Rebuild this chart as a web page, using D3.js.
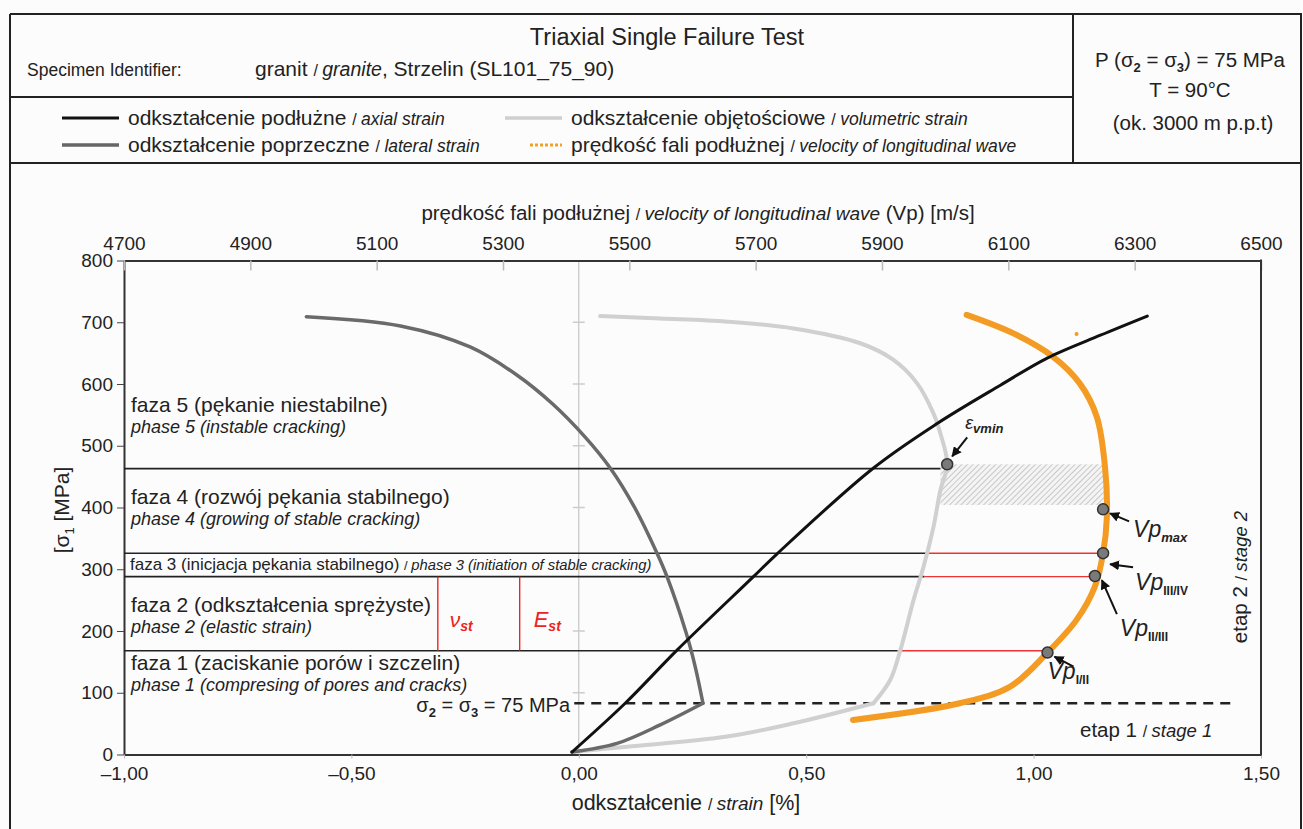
<!doctype html>
<html>
<head>
<meta charset="UTF-8">
<script src="https://d3js.org/d3.v7.min.js"></script>
<style>
  body { margin: 0; background: #fcfcfc; }
  svg { display: block; font-family: "Liberation Sans", Arial, sans-serif; }
</style>
</head>
<body>
<svg id="chart" width="1303" height="829"></svg>
<script>
// strain [%] / stress [MPa]
var axialStrain = [-0.015, 0.102, 0.216, 0.384, 0.436, 0.648, 0.788, 0.927, 1.03, 1.147, 1.25];
var axialStress = [4, 83, 169, 288, 325, 464, 536, 598, 642, 679, 710];

var lateralLoadStrain = [-0.015, 0.084, 0.179, 0.273];
var lateralLoadStress = [4, 18, 48, 83];
var lateralStrain = [0.273, 0.256, 0.236, 0.194, 0.172, 0.122, 0.069, 0.014, -0.058, -0.137, -0.239, -0.392, -0.599];
var lateralStress = [83, 142, 197, 288, 326, 401, 464, 514, 568, 615, 660, 694, 709];

var volLoadStrain = [-0.015, 0.106, 0.326, 0.472, 0.648];
var volLoadStress = [4, 12.6, 29, 50.5, 83];
var volStrain = [0.648, 0.685, 0.707, 0.736, 0.758, 0.78, 0.795, 0.81, 0.795, 0.78, 0.744, 0.692, 0.619, 0.472, 0.326, 0.179, 0.047];
var volStress = [83, 121, 169, 250, 304, 369, 428, 470, 520, 552, 601, 639, 666, 690, 701, 706, 710];

// velocity of longitudinal wave [m/s]
var vpVelocity = [5854, 6023, 6103, 6161, 6208, 6237, 6250, 6256, 6253, 6240, 6213, 6171, 6108, 6034];
var vpStress = [56, 83, 110, 164, 218, 272, 326, 385, 466, 547, 601, 644, 682, 712];

// phase boundaries
var boundaryStress = [463, 326, 288, 168];
var boundaryVolStrain = [0.805, 0.77, 0.76, 0.70];
var boundaryVp = [null, 6250, 6237, 6162];

var vpPointNames = ["max", "III/IV", "II/III", "I/II"];
var vpPointVelocity = [6250, 6250, 6237, 6162];
var vpPointStress = [397, 326, 289, 165];
var evMinStrain = 0.81, evMinStress = 470;

var confiningStress = 83;
var elasticStrain = [-0.31, -0.13];
var elasticNames = ["ν", "E"];

var strainTicks = [-1, -0.5, 0, 0.5, 1, 1.5];
var stressTicks = [0, 100, 200, 300, 400, 500, 600, 700, 800];
var velocityTicks = [4700, 4900, 5100, 5300, 5500, 5700, 5900, 6100, 6300, 6500];

var svg = d3.select("#chart");
var plotLeft = 124, plotRight = 1261, plotTop = 260.5, plotBottom = 754.5;

var x = d3.scaleLinear().domain([-1, 1.5]).range([plotLeft, plotRight]);
var y = d3.scaleLinear().domain([0, 800]).range([plotBottom, plotTop]);
var v = d3.scaleLinear().domain([4700, 6500]).range([plotLeft, plotRight]);

function fmt(d) { return d3.format(".2f")(d).replace(".", ",").replace("-", "\u2013").replace("\u2212", "\u2013"); }

// writes one text built from styled pieces
function rich(g, px, py, parts, anchor) {
  var t = g.append("text").attr("x", px).attr("y", py).attr("fill", "#222")
    .attr("text-anchor", anchor || "start");
  parts.forEach(function (p) {
    var s = t.append("tspan").text(p.t).attr("font-size", p.size || 17);
    if (p.italic) s.attr("font-style", "italic");
    if (p.bold) s.attr("font-weight", "bold");
    if (p.dy) s.attr("dy", p.dy);
    if (p.fill) s.attr("fill", p.fill);
  });
  return t;
}

// ---------- header frame ----------
var frame = svg.append("g").attr("stroke", "#222").attr("stroke-width", 2).attr("fill", "none");
frame.append("line").attr("x1", 10).attr("x2", 1302).attr("y1", 14).attr("y2", 14);
frame.append("line").attr("x1", 10).attr("x2", 10).attr("y1", 14).attr("y2", 829);
frame.append("line").attr("x1", 1301).attr("x2", 1301).attr("y1", 14).attr("y2", 829);
frame.append("line").attr("x1", 10).attr("x2", 1073).attr("y1", 97).attr("y2", 97);
frame.append("line").attr("x1", 10).attr("x2", 1302).attr("y1", 163).attr("y2", 163);
frame.append("line").attr("x1", 1073).attr("x2", 1073).attr("y1", 14).attr("y2", 163);

var head = svg.append("g");
rich(head, 667, 45, [{ t: "Triaxial Single Failure Test", size: 23.5 }], "middle");
rich(head, 27, 76, [{ t: "Specimen Identifier:", size: 17.5 }]);
rich(head, 255, 76, [{ t: "granit ", size: 21 }, { t: "/ ", size: 16 }, { t: "granite", size: 19.5, italic: true },
  { t: ", Strzelin (SL101_75_90)", size: 21 }]);

rich(head, 1190, 67, [{ t: "P (σ", size: 20.5 }, { t: "2", size: 13, dy: 5, bold: true }, { t: " = σ", size: 20.5, dy: -5 },
  { t: "3", size: 13, dy: 5, bold: true }, { t: ") = 75 MPa", size: 20.5, dy: -5 }], "middle");
rich(head, 1190, 97, [{ t: "T = 90°C", size: 20.5 }], "middle");
rich(head, 1193, 130, [{ t: "(ok. 3000 m p.p.t)", size: 20.5 }], "middle");

// ---------- legend ----------
var legendRows = [
  { x: 62, y: 125, color: "#111", w: 3, text: "odkształcenie podłużne ", en: "axial strain" },
  { x: 62, y: 152, color: "#666", w: 3.5, text: "odkształcenie poprzeczne ", en: "lateral strain" },
  { x: 505, y: 125, color: "#cfcfcf", w: 3.5, text: "odkształcenie objętościowe ", en: "volumetric strain" },
  { x: 505, y: 152, color: "#f2a227", w: 3, dash: "3,2", text: "prędkość fali podłużnej ", en: "velocity of longitudinal wave" }
];
legendRows.forEach(function (r) {
  var x0 = r.dash ? r.x + 25 : r.x;
  head.append("line").attr("x1", x0).attr("x2", r.x + 57).attr("y1", r.y - 7).attr("y2", r.y - 7)
    .attr("stroke", r.color).attr("stroke-width", r.w).attr("stroke-dasharray", r.dash || null);
  rich(head, r.x + 66, r.y, [{ t: r.text, size: 21 }, { t: "/ ", size: 16 }, { t: r.en, size: 17.5, italic: true }]);
});

// ---------- axes ----------
var plot = svg.append("g");

// zero strain guide
plot.append("line").attr("x1", x(0)).attr("x2", x(0)).attr("y1", plotTop).attr("y2", plotBottom)
  .attr("stroke", "#bbb").attr("stroke-width", 1);
plot.append("g").selectAll("line").data(stressTicks.slice(1, -1)).join("line")
  .attr("x1", x(0) - 6).attr("x2", x(0) + 6).attr("y1", d => y(d)).attr("y2", d => y(d))
  .attr("stroke", "#ccc").attr("stroke-width", 1.5);

var tickFont = "Liberation Sans, Arial, sans-serif";
var yAxis = plot.append("g").attr("transform", "translate(" + plotLeft + ",0)")
  .call(d3.axisLeft(y).tickValues(stressTicks).tickSize(7).tickSizeOuter(0).tickPadding(4));
yAxis.selectAll("text").attr("font-size", 19).attr("fill", "#222").attr("font-family", tickFont);

var xAxis = plot.append("g").attr("transform", "translate(0," + plotBottom + ")")
  .call(d3.axisBottom(x).tickValues(strainTicks).tickFormat(fmt).tickSize(4).tickSizeOuter(0).tickPadding(8));
xAxis.selectAll("text").attr("font-size", 19).attr("fill", "#222").attr("font-family", tickFont);
xAxis.selectAll(".tick line").attr("stroke", "#bbb");

var vAxis = plot.append("g").attr("transform", "translate(0," + plotTop + ")")
  .call(d3.axisTop(v).tickValues(velocityTicks).tickFormat(d3.format("d")).tickSize(0).tickSizeOuter(0).tickPadding(11));
vAxis.selectAll("text").attr("font-size", 19).attr("fill", "#222").attr("font-family", tickFont);
vAxis.selectAll(".tick").append("line").attr("y1", 0).attr("y2", 10).attr("stroke", "#bbb").attr("stroke-width", 1.5);

[yAxis, xAxis, vAxis].forEach(function (a) { a.select(".domain").attr("stroke", "#333").attr("stroke-width", 2); });
yAxis.selectAll(".tick line").attr("stroke", "#444");
plot.append("line").attr("x1", plotRight).attr("x2", plotRight).attr("y1", plotTop - 1).attr("y2", plotBottom + 1)
  .attr("stroke", "#333").attr("stroke-width", 2);

rich(plot, 698, 220, [{ t: "prędkość fali podłużnej ", size: 20.5 }, { t: "/ ", size: 16 },
  { t: "velocity of longitudinal wave", size: 19, italic: true }, { t: " (Vp) [m/s]", size: 20.5 }], "middle");
rich(plot, 686, 810, [{ t: "odkształcenie ", size: 21.5 }, { t: "/ ", size: 16 },
  { t: "strain", size: 19, italic: true }, { t: " [%]", size: 21.5 }], "middle");
rich(plot, 0, 0, [{ t: "[σ", size: 21 }, { t: "1", size: 13, dy: 5 }, { t: " [MPa]", size: 21, dy: -5 }], "middle")
  .attr("transform", "translate(69,510) rotate(-90)");

// ---------- phase boundaries ----------
var bounds = plot.append("g");
boundaryStress.forEach(function (s, i) {
  bounds.append("line").attr("x1", plotLeft).attr("x2", x(boundaryVolStrain[i])).attr("y1", y(s)).attr("y2", y(s))
    .attr("stroke", "#222").attr("stroke-width", 1.6);
  if (boundaryVp[i] != null) {
    bounds.append("line").attr("x1", x(boundaryVolStrain[i])).attr("x2", v(boundaryVp[i]))
      .attr("y1", y(s)).attr("y2", y(s)).attr("stroke", "#e33").attr("stroke-width", 1.4);
  }
});
elasticStrain.forEach(function (e, i) {
  bounds.append("line").attr("x1", x(e)).attr("x2", x(e)).attr("y1", y(boundaryStress[2])).attr("y2", y(boundaryStress[3]))
    .attr("stroke", "#e22").attr("stroke-width", 1.4);
  rich(bounds, x(e) + (i ? 14 : 12), 627, [{ t: elasticNames[i], size: i ? 22 : 21, italic: true, fill: "#e22" },
    { t: "st", size: 14, bold: true, italic: true, dy: 4, fill: "#e22" }]);
});

// hatched region between ev min and Vp max
var defs = svg.append("defs");
var pat = defs.append("pattern").attr("id", "hatch").attr("patternUnits", "userSpaceOnUse")
  .attr("width", 4).attr("height", 4).attr("patternTransform", "rotate(45)");
pat.append("rect").attr("width", 4).attr("height", 4).attr("fill", "#f4f4f4");
pat.append("line").attr("x1", 0).attr("x2", 0).attr("y1", 0).attr("y2", 4).attr("stroke", "#bdbdbd").attr("stroke-width", 1.6);
plot.append("rect").attr("x", x(0.795)).attr("y", y(470)).attr("width", v(6253) - x(0.795))
  .attr("height", y(404) - y(470)).attr("fill", "url(#hatch)");

// dashed confining pressure line
plot.append("line").attr("x1", x(-0.01)).attr("x2", x(1.44)).attr("y1", y(confiningStress)).attr("y2", y(confiningStress))
  .attr("stroke", "#222").attr("stroke-width", 2.5).attr("stroke-dasharray", "10,7");
rich(plot, 570, 712, [{ t: "σ", size: 20 }, { t: "2", size: 13, dy: 5, bold: true }, { t: " = σ", size: 20, dy: -5 },
  { t: "3", size: 13, dy: 5, bold: true }, { t: " = 75 MPa", size: 20, dy: -5 }], "end");

// ---------- phase labels ----------
var phases = [
  { y: 412, pl: "faza 5 (pękanie niestabilne)", en: "phase 5 (instable cracking)" },
  { y: 504, pl: "faza 4 (rozwój pękania stabilnego)", en: "phase 4 (growing of stable cracking)" },
  { y: 612, pl: "faza 2 (odkształcenia sprężyste)", en: "phase 2 (elastic strain)" },
  { y: 670, pl: "faza 1 (zaciskanie porów i szczelin)", en: "phase 1 (compresing of pores and cracks)" }
];
phases.forEach(function (p) {
  rich(plot, 131, p.y, [{ t: p.pl, size: 21 }]);
  rich(plot, 131, p.y + 21, [{ t: p.en, size: 18, italic: true }]);
});
rich(plot, 130, 570, [{ t: "faza 3 (inicjacja pękania stabilnego) ", size: 17 }, { t: "/ ", size: 13 },
  { t: "phase 3 (initiation of stable cracking)", size: 14.8, italic: true }]);

rich(plot, 1080, 737, [{ t: "etap 1 ", size: 20.5 }, { t: "/ ", size: 16 }, { t: "stage 1", size: 18.5, italic: true }]);
rich(plot, 0, 0, [{ t: "etap 2 ", size: 20.5 }, { t: "/ ", size: 16 }, { t: "stage 2", size: 18.5, italic: true }], "middle")
  .attr("transform", "translate(1247,577) rotate(-90)");

// ---------- curves ----------
var curves = plot.append("g").attr("fill", "none").attr("stroke-linecap", "round").attr("stroke-linejoin", "round");
function strainPath(sx, sy) {
  return d3.line().curve(d3.curveCatmullRom)(sx.map(function (d, i) { return [x(d), y(sy[i])]; }));
}
curves.append("path").attr("d", strainPath(volLoadStrain, volLoadStress)).attr("stroke", "#d0d0d0").attr("stroke-width", 4);
curves.append("path").attr("d", strainPath(volStrain, volStress)).attr("stroke", "#d0d0d0").attr("stroke-width", 4);
curves.append("path").attr("d", strainPath(lateralLoadStrain, lateralLoadStress)).attr("stroke", "#6a6a6a").attr("stroke-width", 3.5);
curves.append("path").attr("d", strainPath(lateralStrain, lateralStress)).attr("stroke", "#6a6a6a").attr("stroke-width", 3.5);
curves.append("path").attr("d", d3.line().curve(d3.curveCatmullRom)(vpVelocity.map(function (d, i) { return [v(d), y(vpStress[i])]; })))
  .attr("stroke", "#f39b22").attr("stroke-width", 6);
curves.append("path").attr("d", strainPath(axialStrain, axialStress)).attr("stroke", "#111").attr("stroke-width", 3);
plot.append("circle").attr("cx", v(6208)).attr("cy", y(681)).attr("r", 2).attr("fill", "#f39b22");

// ---------- key points ----------
var marks = plot.append("g");
defs.append("marker").attr("id", "arrow").attr("viewBox", "0 0 10 10").attr("refX", 9).attr("refY", 5)
  .attr("markerWidth", 5).attr("markerHeight", 5).attr("orient", "auto")
  .append("path").attr("d", "M0,0 L10,5 L0,10 z").attr("fill", "#111");
function arrow(x1, y1, x2, y2) {
  marks.append("line").attr("x1", x1).attr("y1", y1).attr("x2", x2).attr("y2", y2)
    .attr("stroke", "#111").attr("stroke-width", 2).attr("marker-end", "url(#arrow)");
}
function dot(cx, cy) {
  marks.append("circle").attr("cx", cx).attr("cy", cy).attr("r", 5.5).attr("fill", "#7a7a7a")
    .attr("stroke", "#333").attr("stroke-width", 1.5);
}

dot(x(evMinStrain), y(evMinStress));
arrow(x(evMinStrain) + 20, y(evMinStress) - 27, x(evMinStrain) + 5, y(evMinStress) - 8);
rich(marks, x(evMinStrain) + 18, y(evMinStress) - 35, [{ t: "ε", size: 18, italic: true },
  { t: "vmin", size: 13, italic: true, bold: true, dy: 4 }]);

// arrow start dx, dy, label dx, dy relative to each point
var labelOffsets = [[26, 12, 30, 28], [30, 14, 32, 37], [22, 38, 25, 60], [26, 14, 0, 26]];
vpPointVelocity.forEach(function (vel, i) {
  var cx = v(vel), cy = y(vpPointStress[i]), o = labelOffsets[i];
  dot(cx, cy);
  arrow(cx + o[0], cy + o[1], cx + 7, cy + (i === 1 ? 11 : 4));
  var bold = i === 0;
  rich(marks, cx + o[2], cy + o[3], [{ t: "Vp", size: 23, italic: true },
    { t: vpPointNames[i], size: bold ? 13 : 12, bold: true, italic: bold, dy: 5 }]);
});
</script>
</body>
</html>
